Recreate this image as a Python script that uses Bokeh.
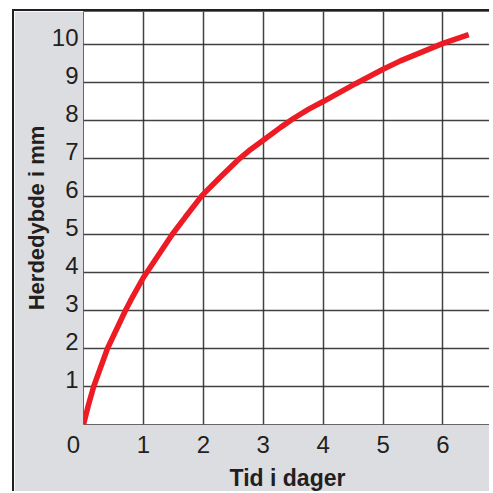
from bokeh.plotting import figure
from bokeh.models import FixedTicker, Range1d, LinearAxis, Grid
from bokeh.embed import file_html
from bokeh.resources import INLINE

# Data
days = [0, 0.08, 0.17, 0.40, 0.70, 0.785, 1.0, 1.48, 1.70, 1.98, 2.29, 2.57, 2.79,
        3.0, 3.29, 3.51, 3.76, 4.0, 4.54, 5.0, 5.29, 6.0, 6.43]
depth = [0, 0.5, 1.0, 2.0, 3.0, 3.26, 3.87, 5.0, 5.46, 6.03, 6.52, 6.95, 7.24,
         7.48, 7.82, 8.06, 8.30, 8.50, 8.97, 9.35, 9.57, 10.03, 10.26]

x_ticks = [0, 1, 2, 3, 4, 5, 6]
y_ticks = [1, 2, 3, 4, 5, 6, 7, 8, 9, 10]
x_title = "Tid i dager"
y_title = "Herdedybde i mm"

FONT = "Liberation Sans"
TXT = "#231f20"
GRID = "#2e2e2e"
X_END = 6.81
Y_END = 10.87
LABEL_SHIFT = 0.18  # y tick labels sit just above their grid line

p = figure(width=477, height=482,
           x_range=Range1d(0, X_END), y_range=Range1d(0, Y_END),
           y_axis_location=None,
           output_backend="svg", toolbar_location=None,
           min_border_left=69, min_border_right=0, min_border_top=0, min_border_bottom=50,
           background_fill_color="white", border_fill_color="#dcdde0",
           outline_line_color="#666666", outline_line_width=1,
           margin=(9, 0, 0, 12),
           styles={"border-left": "2px solid #231f20", "border-top": "2px solid #231f20"})

for g in p.grid:
    g.visible = False
p.add_layout(Grid(dimension=0, ticker=FixedTicker(ticks=x_ticks),
                  grid_line_color=GRID, grid_line_width=1.5, grid_line_alpha=0.9))
p.add_layout(Grid(dimension=1, ticker=FixedTicker(ticks=[0] + y_ticks),
                  grid_line_color=GRID, grid_line_width=1.5, grid_line_alpha=0.9))

xa = p.xaxis[0]
xa.ticker = FixedTicker(ticks=x_ticks)
xa.major_label_overrides = {0: "0\u00a0\u00a0\u00a0"}
xa.major_tick_out = 0
xa.major_tick_in = 0
xa.minor_tick_out = 0
xa.minor_tick_in = 0
xa.axis_line_color = None
xa.major_label_standoff = 6
xa.major_label_text_font = FONT
xa.major_label_text_font_size = "24px"
xa.major_label_text_color = TXT
xa.axis_label = x_title
xa.axis_label_text_font = FONT
xa.axis_label_text_font_style = "bold"
xa.axis_label_text_font_size = "23px"
xa.axis_label_text_color = TXT
xa.axis_label_standoff = 4

p.extra_y_ranges = {"lab": Range1d(-LABEL_SHIFT, Y_END - LABEL_SHIFT)}
ya = LinearAxis(y_range_name="lab", ticker=FixedTicker(ticks=y_ticks))
ya.major_tick_out = 0
ya.major_tick_in = 0
ya.minor_tick_out = 0
ya.minor_tick_in = 0
ya.axis_line_color = None
ya.major_label_standoff = 5
ya.major_label_text_font = FONT
ya.major_label_text_font_size = "24px"
ya.major_label_text_color = TXT
ya.axis_label = y_title
ya.axis_label_text_font = FONT
ya.axis_label_text_font_style = "bold"
ya.axis_label_text_font_size = "22px"
ya.axis_label_text_color = TXT
ya.axis_label_standoff = 0
p.add_layout(ya, "left")

p.line(days, depth, line_color="#ed1c24", line_width=5.5)

open("out.html", "w").write(file_html(p, INLINE))
